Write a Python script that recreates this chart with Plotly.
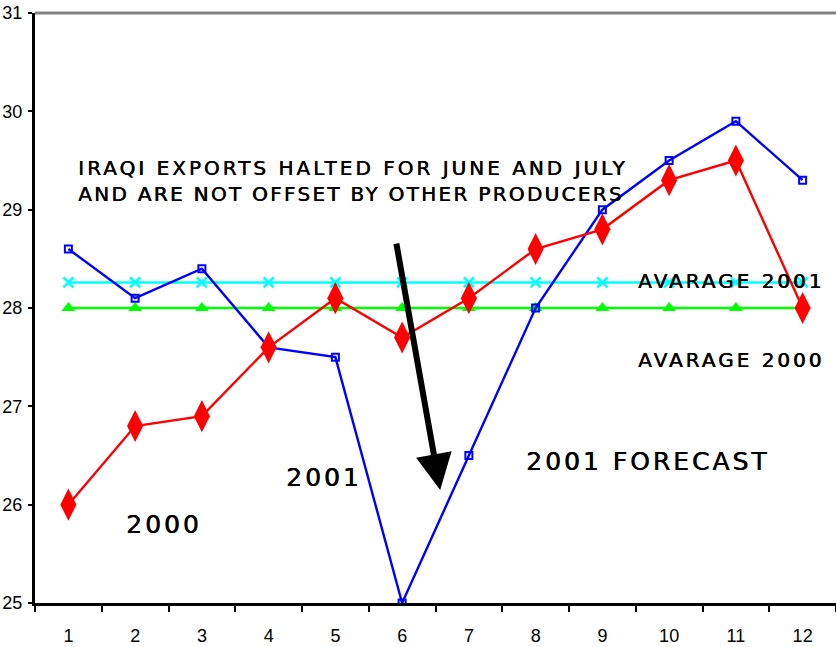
import plotly.graph_objects as go

months = ["1", "2", "3", "4", "5", "6", "7", "8", "9", "10", "11", "12"]
price_2000 = [26.0, 26.8, 26.9, 27.6, 28.1, 27.7, 28.1, 28.6, 28.8, 29.3, 29.5, 28.0]
price_2001 = [28.6, 28.1, 28.4, 27.6, 27.5, 25.0, 26.5, 28.0, 29.0, 29.5, 29.9, 29.3]
avg_2001 = [28.26] * 12
avg_2000 = [28.0] * 12

fig = go.Figure()

fig.add_trace(go.Scatter(
    x=months, y=avg_2001, mode="lines+markers",
    line=dict(color="#00FFFF", width=2.5),
    marker=dict(symbol="x-thin", size=10, line=dict(color="#00FFFF", width=2.5)),
))
fig.add_trace(go.Scatter(
    x=months, y=avg_2000, mode="lines+markers",
    line=dict(color="#00FF00", width=2.5),
    marker=dict(symbol="triangle-up", size=12, color="#00FF00"),
))
fig.add_trace(go.Scatter(
    x=months, y=price_2001, mode="lines+markers",
    line=dict(color="#0000FF", width=2.4),
    marker=dict(symbol="square-open", size=7, color="#0000FF", line=dict(width=2)),
))
fig.add_trace(go.Scatter(
    x=months, y=price_2000, mode="lines+markers",
    line=dict(color="#FF0000", width=2.4),
    marker=dict(symbol="diamond-tall", size=23, color="#FF0000"),
))

txt = dict(family="DejaVu Sans", color="black", shadow="0.6px 0px 0px black")

def label(lines, px, py, size):
    # lines: list of (text, letter spacing in px)
    styled = "<br>".join(
        f'<span style="letter-spacing:{sp}px">{ln}</span>' for ln, sp in lines
    )
    fig.add_annotation(
        text=styled, xref="paper", yref="paper",
        x=(px - 35) / 801, y=(603 - py) / 590,
        xanchor="left", yanchor="middle", showarrow=False,
        font=dict(size=size, **txt), align="left",
    )

label([("IRAQI EXPORTS HALTED FOR JUNE AND JULY", 3),
       ("AND ARE NOT OFFSET BY OTHER PRODUCERS", 2.3)], 76, 181, 20)
label([("AVARAGE 2001", 3)], 636, 281, 20)
label([("AVARAGE 2000", 3)], 636, 360, 20)
label([("2001 FORECAST", 3)], 524, 461, 25)
label([("2001", 3)], 284, 477, 25)
label([("2000", 3)], 124, 524, 25)

# arrow pointing at the June/July export halt
fig.add_annotation(
    x=5.57, y=26.15, ax=4.91, ay=28.67, xref="x", yref="y", axref="x", ayref="y",
    text="", showarrow=True, arrowhead=2, arrowsize=1.2, arrowwidth=6, arrowcolor="black",
    standoff=0,
)

# top edge of the plotting area
fig.add_shape(type="line", xref="paper", yref="paper", x0=0, x1=1, y0=1, y1=1,
              line=dict(color="#808080", width=3))

tickfont = dict(family="Liberation Sans Narrow, Liberation Sans", size=18, color="black")

fig.update_layout(
    width=836, height=647,
    margin=dict(l=35, r=0, t=13, b=44),
    paper_bgcolor="white", plot_bgcolor="white",
    showlegend=False,
    xaxis=dict(
        type="category", range=[-0.5, 11.5], tickson="boundaries",
        ticks="outside", ticklen=6, tickwidth=2, tickcolor="black",
        showline=True, linecolor="black", linewidth=3, showgrid=False,
        tickfont=tickfont, ticklabelstandoff=14, zeroline=False,
    ),
    yaxis=dict(
        range=[25, 31], dtick=1, ticks="outside", ticklen=4, tickwidth=2, tickcolor="black",
        showline=True, linecolor="black", linewidth=3, showgrid=False, zeroline=False,
        tickfont=tickfont, ticklabelstandoff=2,
    ),
)

fig.write_html("out.html")
